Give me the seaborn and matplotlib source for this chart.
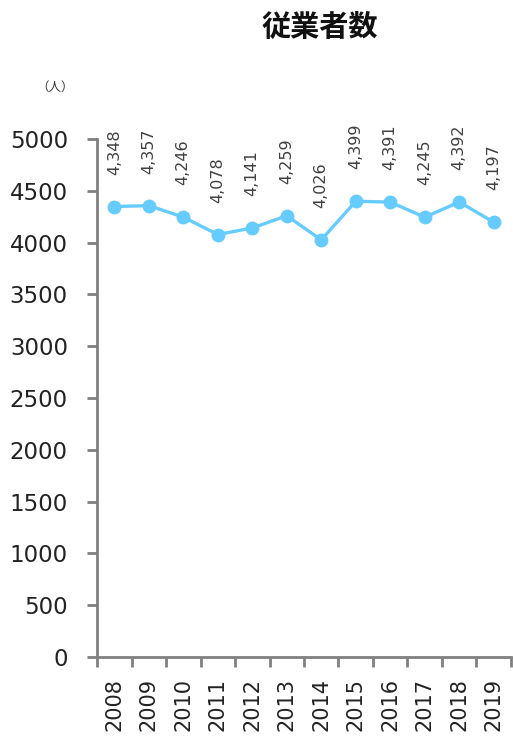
import matplotlib
matplotlib.use("Agg")
import matplotlib.pyplot as plt
import seaborn as sns
import numpy as np
import pandas as pd

years = ["2008", "2009", "2010", "2011", "2012", "2013", "2014", "2015", "2016", "2017", "2018", "2019"]
values = [4348, 4357, 4246, 4078, 4141, 4259, 4026, 4399, 4391, 4245, 4392, 4197]
value_labels = ["4,348", "4,357", "4,246", "4,078", "4,141", "4,259", "4,026", "4,399", "4,391", "4,245", "4,392", "4,197"]
y_ticks = [0, 500, 1000, 1500, 2000, 2500, 3000, 3500, 4000, 4500, 5000]

sns.set_theme(style="white")
plt.rcParams['font.family'] = ['DejaVu Sans', 'Noto Sans CJK JP']

fig = plt.figure(figsize=(5.13, 7.38), dpi=100)
ax = fig.add_axes([97/513, 1-657/738, 414/513, (657-139)/738])

df = pd.DataFrame({"pos": np.arange(len(years)), "value": values})
sns.lineplot(data=df, x="pos", y="value", ax=ax, color="#66CCFF", linewidth=2.4,
             marker="o", markersize=10, markeredgewidth=0)

for i, (v, lab) in enumerate(zip(values, value_labels)):
    ax.annotate(lab, xy=(i, v), xytext=(0, 23), textcoords="offset points",
                rotation=90, ha="center", va="bottom", fontsize=11.5, color="#404040")

ax.set_xlim(-0.5, len(years) - 0.5)
ax.set_ylim(0, 5000)
ax.set_yticks(y_ticks)
ax.set_yticklabels([str(t) for t in y_ticks], fontsize=16.5, color="#222222")
ax.set_xticks(np.arange(len(years)))
ax.set_xticklabels(years, rotation=90, fontsize=15, color="#222222")
ax.set_xticks(np.arange(-0.5, len(years)), minor=True)
ax.tick_params(axis="x", which="major", length=0, pad=15)
ax.tick_params(axis="x", which="minor", length=7, width=2, color="#808080", direction="out", bottom=True)
ax.tick_params(axis="y", which="major", length=7, width=2, color="#808080", direction="out", left=True, pad=14)
ax.set_xlabel("")
ax.set_ylabel("")
for s in ["top", "right"]:
    ax.spines[s].set_visible(False)
for s in ["left", "bottom"]:
    ax.spines[s].set_color("#808080")
    ax.spines[s].set_linewidth(2)
ax.grid(False)

fig.text(55/513, 1-87/738, "（人）", fontsize=9, ha="center", va="center",
         family=['Noto Sans CJK JP', 'DejaVu Sans'], color="#333333")
fig.text(320/513, 1-27/738, "従業者数", fontsize=21, fontweight="bold", ha="center", va="center",
         family=['Noto Sans CJK JP', 'DejaVu Sans'], color="#111111")

fig.savefig("out.png", dpi=100)
